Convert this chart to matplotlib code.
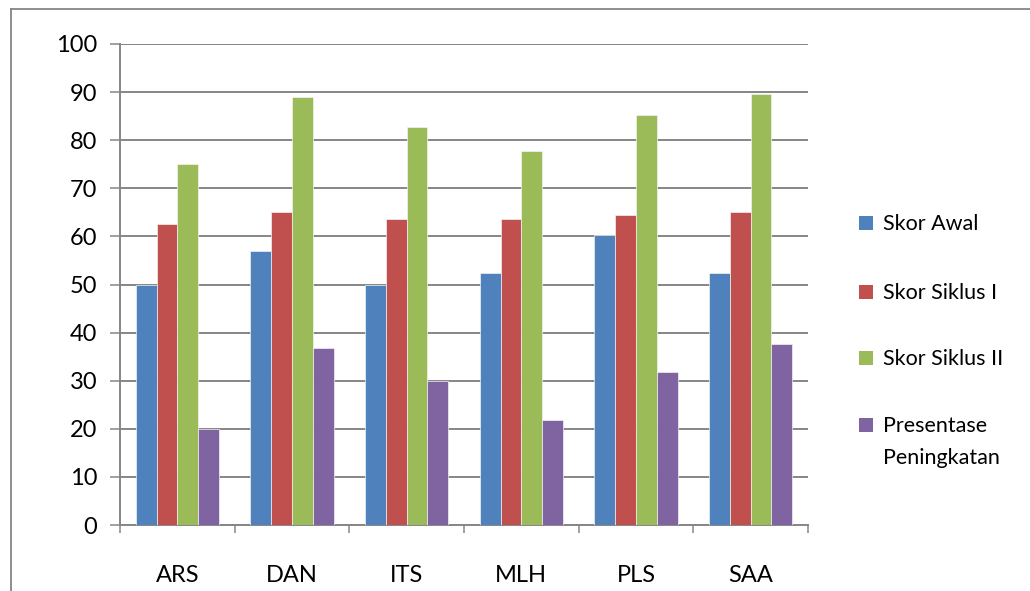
import matplotlib
matplotlib.use("Agg")
import matplotlib.pyplot as plt
import numpy as np
from matplotlib.lines import Line2D
from matplotlib.patches import Rectangle

categories = ["ARS", "DAN", "ITS", "MLH", "PLS", "SAA"]
skor_awal = [50, 57, 50, 52.4, 60.3, 52.4]
skor_siklus_1 = [62.5, 65, 63.6, 63.6, 64.4, 65]
skor_siklus_2 = [75, 89, 82.7, 77.7, 85.2, 89.7]
presentase = [20, 36.7, 30, 21.8, 31.8, 37.6]
series_names = ["Skor Awal", "Skor Siklus I", "Skor Siklus II", "Presentase\nPeningkatan"]
colors = ["#4F81BD", "#C0504D", "#9BBB59", "#8064A2"]
yticks = [0, 10, 20, 30, 40, 50, 60, 70, 80, 90, 100]

plt.rcParams['font.family'] = ['Lato', 'DejaVu Sans']

W, H = 1030, 591
fig = plt.figure(figsize=(W / 100, H / 100), dpi=100)
ax = fig.add_axes([120 / W, (H - 525) / H, (808 - 120) / W, (525 - 44) / H])

series = [skor_awal, skor_siklus_1, skor_siklus_2, presentase]
x = np.arange(len(categories))
bw = 0.181
for i, (vals, c) in enumerate(zip(series, colors)):
    ax.bar(x + (i - 1.5) * bw, vals, width=bw, color=c, edgecolor="#f2f2f2",
           linewidth=0.5, zorder=3)

grid_c = "#868686"
ax.set_xlim(-0.5, len(categories) - 0.5)
ax.set_ylim(0, 100)
ax.set_yticks(yticks)
ax.set_yticklabels([str(v) for v in yticks], fontsize=17)
ax.yaxis.grid(True, color=grid_c, linewidth=1.4, zorder=0)
ax.set_axisbelow(True)
ax.tick_params(axis="y", length=7.5, width=1.1, color=grid_c, pad=9)

ax.set_xticks(x)
ax.set_xticklabels(categories, fontsize=17)
ax.tick_params(axis="x", which="major", length=0, pad=29)
ax.set_xticks(np.arange(-0.5, len(categories)), minor=True)
ax.tick_params(axis="x", which="minor", length=5.5, width=1.1, color=grid_c)

for s in ["top", "right"]:
    ax.spines[s].set_visible(False)
for s in ["left", "bottom"]:
    ax.spines[s].set_color(grid_c)
    ax.spines[s].set_linewidth(1.4)

# outer chart border
fig.add_artist(Line2D([10.5 / W, 1.0], [1 - 8.5 / H, 1 - 8.5 / H], color=grid_c, linewidth=1.3, transform=fig.transFigure))
fig.add_artist(Line2D([10.5 / W, 10.5 / W], [0, 1 - 8.5 / H], color=grid_c, linewidth=1.3, transform=fig.transFigure))

# legend
row_y = [223, 292, 358, 425]
for name, c, yy in zip(series_names, colors, row_y):
    fig.add_artist(Rectangle((859 / W, 1 - (yy + 7) / H), 14 / W, 14 / H, facecolor=c,
                             edgecolor="none", transform=fig.transFigure))
    fig.text(883 / W, 1 - (yy - 9) / H, name, fontsize=15.5, va="top", ha="left",
             linespacing=1.75)

fig.savefig("out.png", dpi=100)
